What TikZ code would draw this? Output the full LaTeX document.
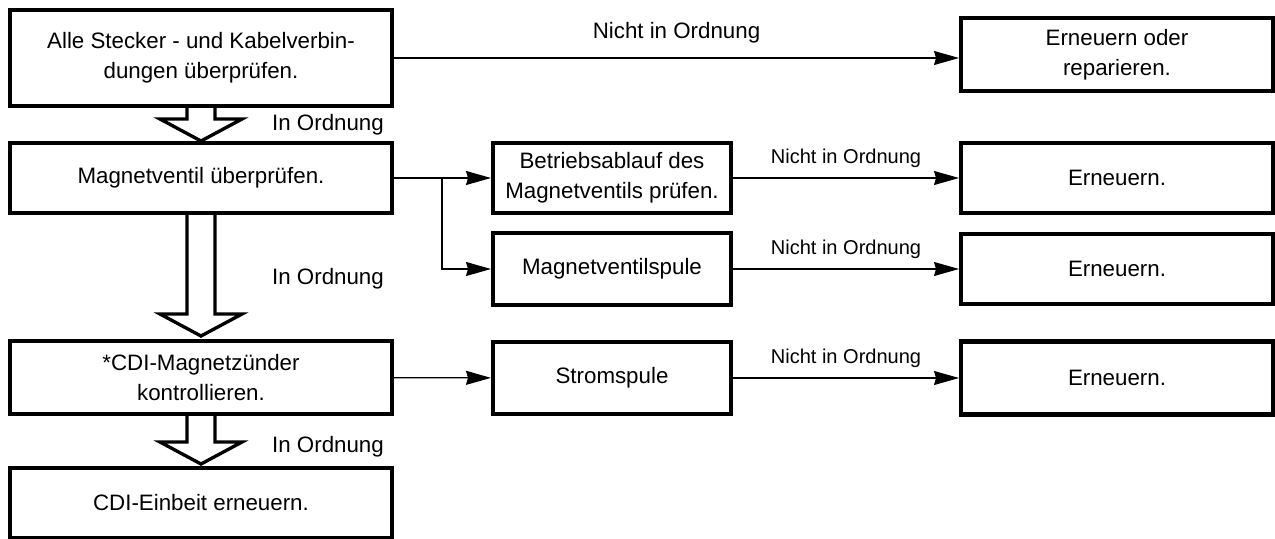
\documentclass[tikz,border=0pt]{standalone}
\usepackage{fontspec}
\setmainfont{Liberation Sans}
\usetikzlibrary{arrows.meta, positioning, calc}
\tikzset{
	stepbox/.style={rectangle, draw=black, line width=2.3pt, inner sep=2pt, align=center, text centered, font=\fontsize{12.7}{17}\selectfont},
	leftbox/.style={stepbox, minimum width=7.64cm},
	midbox/.style ={stepbox, minimum width=4.76cm},
	fixbox/.style ={stepbox, minimum width=6.24cm},
	flowarrow/.style={-{Stealth[length=5mm, width=2.8mm, inset=0.4mm]}, line width=0.7pt},
	% broad hollow arrows for the "In Ordnung" path
	okarrow/.style={draw=black, line width=1.9pt, fill=white, line join=miter},
	oklabel/.style={font=\fontsize{12.7}{15}\selectfont},
	nglabel/.style={font=\fontsize{11.4}{14}\selectfont, above=2pt},
}
\newcommand{\okdown}[2]{\draw[okarrow] ($(#1.south)+(-14,0)$) -- ++(0,#2) -- ++(-27,0) -- ++(41,22) -- ++(41,-22) -- ++(-27,0) -- ++(0,-#2);}

\begin{document}
\begin{tikzpicture}[x=0.02cm, y=-0.02cm]
	\useasboundingbox (0,0) rectangle (1275,538);
	\node[leftbox, minimum height=1.92cm] (chk) at (201,58) {Alle Stecker - und Kabelverbin-\\dungen überprüfen.};
	\node[leftbox, minimum height=1.4cm] (valve) at (201,178) {Magnetventil überprüfen.};
	\node[leftbox, minimum height=1.46cm] (cdi) at (201,377.5) {*CDI-Magnetzünder\\kontrollieren.};
	\node[leftbox, minimum height=1.4cm] (unit) at (201,503) {CDI-Einbeit erneuern.};
	\node[midbox, minimum height=1.4cm] (op) at (612,178) {Betriebsablauf des\\Magnetventils prüfen.};
	\node[midbox, minimum height=1.44cm] (coil) at (612,269) {Magnetventilspule};
	\node[midbox, minimum height=1.44cm] (gen) at (612,378) {Stromspule};
	\node[fixbox, minimum height=1.46cm] (fix0) at (1117,54.5) {Erneuern oder\\reparieren.};
	\node[fixbox, minimum height=1.4cm] (fix1) at (1117,178) {Erneuern.};
	\node[fixbox, minimum height=1.4cm] (fix2) at (1117,269) {Erneuern.};
	\node[fixbox, minimum height=1.46cm] (fix3) at (1117,378) {Erneuern.};
	\okdown{chk}{11}
	\okdown{valve}{99}
	\okdown{cdi}{26}
	\node[oklabel] (ok1) at (328,125) {In Ordnung};
	\node[oklabel] (ok2) at (328,279) {In Ordnung};
	\node[oklabel] (ok3) at (328,447) {In Ordnung};
	\draw[flowarrow] (chk.east) -- node[nglabel, above=5pt, font=\fontsize{12.7}{15}\selectfont] {Nicht in Ordnung} (chk.east -| fix0.west);
	\draw[flowarrow] (valve) -- (op);
	\coordinate (fork) at ($(valve.east)+(48,0)$);
	\draw[flowarrow] (fork) |- (coil.west);
	\draw[flowarrow] (op) -- node[nglabel] {Nicht in Ordnung} (fix1);
	\draw[flowarrow] (coil) -- node[nglabel] {Nicht in Ordnung} (fix2);
	\draw[flowarrow] (cdi) -- (gen);
	\draw[flowarrow] (gen) -- node[nglabel] {Nicht in Ordnung} (fix3);
\end{tikzpicture}
\end{document}
